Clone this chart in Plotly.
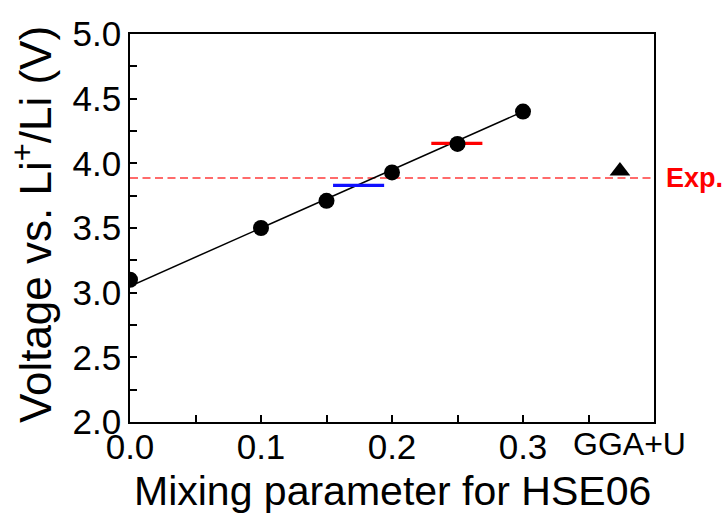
import plotly.graph_objects as go

# Data
hse_x = [0.0, 0.1, 0.15, 0.2, 0.25, 0.3]
hse_v = [3.10, 3.50, 3.71, 3.93, 4.15, 4.40]
fit_x = [0.0, 0.3]
fit_v = [3.05, 4.40]
gga_x = [0.374]
gga_v = [3.94]
exp_v = 3.887
blue_x = [0.155, 0.194]
blue_v = [3.83, 3.83]
red_x = [0.230, 0.269]
red_v = [4.155, 4.155]
xtick_vals = [0.0, 0.05, 0.1, 0.15, 0.2, 0.25, 0.3, 0.35]
xtick_text = ["0.0", "", "0.1", "", "0.2", "", "0.3", ""]
gga_label = "GGA+U"
gga_label_x = 0.381

FONT = "Liberation Sans, Arial, sans-serif"

fig = go.Figure()
# experimental dashed line
fig.add_trace(go.Scatter(x=[0, 0.4], y=[exp_v, exp_v], mode="lines",
                         line=dict(color="#ff3b3b", width=1.6, dash="8px,4.5px"),
                         showlegend=False, hoverinfo="skip"))
# fit line
fig.add_trace(go.Scatter(x=fit_x, y=fit_v, mode="lines",
                         line=dict(color="black", width=1.5),
                         showlegend=False))
fig.add_trace(go.Scatter(x=blue_x, y=blue_v, mode="lines",
                         line=dict(color="#1010ff", width=3.2),
                         showlegend=False))
fig.add_trace(go.Scatter(x=red_x, y=red_v, mode="lines",
                         line=dict(color="#ff0000", width=3.2),
                         showlegend=False))
fig.add_trace(go.Scatter(x=hse_x, y=hse_v, mode="markers",
                         marker=dict(color="black", size=16, symbol="circle"),
                         cliponaxis=True, showlegend=False))
fig.add_trace(go.Scatter(x=gga_x, y=gga_v, mode="markers",
                         marker=dict(color="black", size=18, symbol="triangle-up"),
                         showlegend=False))

fig.update_layout(
    width=727, height=517,
    margin=dict(l=130, r=73, t=34, b=95),
    paper_bgcolor="white", plot_bgcolor="white",
    font=dict(family=FONT, color="black"),
    showlegend=False,
)
fig.update_xaxes(
    range=[0, 0.4], showgrid=False, zeroline=False,
    showline=True, linecolor="black", linewidth=1.5, mirror=True,
    ticks="inside", ticklen=7, tickwidth=1.5, tickcolor="black",
    tickvals=xtick_vals, ticktext=xtick_text, ticklabelstandoff=-7,
    tickfont=dict(size=35, family=FONT),
)
fig.update_yaxes(
    range=[2, 5], showgrid=False, zeroline=False,
    showline=True, linecolor="black", linewidth=1.5, mirror=True,
    ticks="inside", ticklen=7, tickwidth=1.5, tickcolor="black",
    dtick=0.5, tick0=2, tickformat=".1f",
    minor=dict(dtick=0.25, ticks="inside", ticklen=7, tickwidth=1.5, tickcolor="black"),
    tickfont=dict(size=35, family=FONT),
)

fig.add_annotation(x=gga_label_x, y=0, xref="x", yref="paper", text=gga_label,
                   showarrow=False, yanchor="top", yshift=-2,
                   font=dict(size=32, family=FONT, color="black"))
fig.add_annotation(x=1, y=exp_v, xref="paper", yref="y", text="<b>Exp.</b>",
                   showarrow=False, xanchor="left", xshift=10,
                   font=dict(size=27, family=FONT, color="#ff0000"))
fig.add_annotation(x=0.5, y=0, xref="paper", yref="paper",
                   text="Mixing parameter for HSE06",
                   showarrow=False, yanchor="top", yshift=-44,
                   font=dict(size=41, family=FONT, color="black"))
fig.add_annotation(x=0, y=0.5, xref="paper", yref="paper",
                   text="Voltage vs. Li<sup>+</sup>/Li (V)", textangle=-90,
                   showarrow=False, xanchor="center", xshift=-98, yshift=3,
                   font=dict(size=44, family=FONT, color="black"))

fig.write_html("out.html", config={"displayModeBar": False},
               post_script="document.body.style.margin='0';document.body.style.padding='0';")
